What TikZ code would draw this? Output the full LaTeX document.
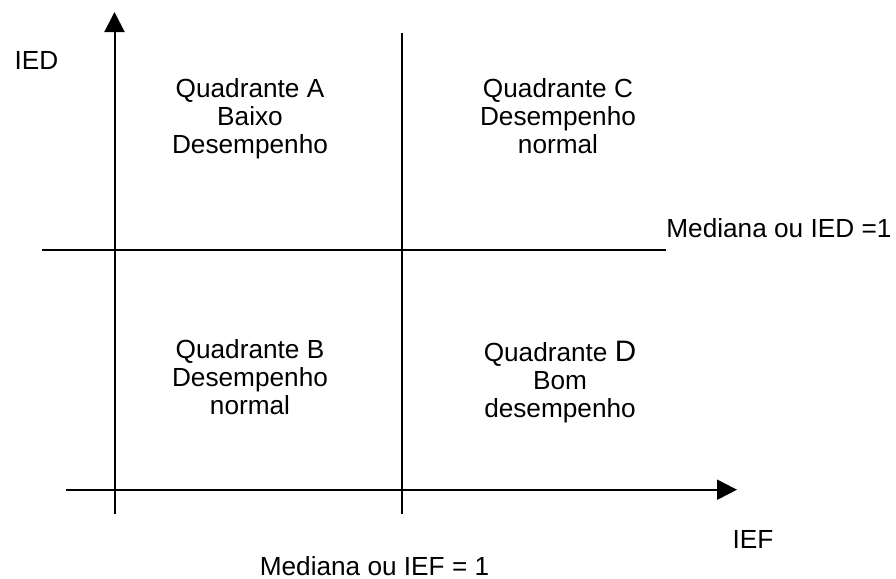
\documentclass[tikz,border=0pt]{standalone}
\usepackage{fontspec}
\setmainfont{Liberation Sans}
\usepackage{tikz}
\usetikzlibrary{arrows.meta}
\tikzset{
quad/.style={
  align=center,
  inner sep=0pt,
  anchor=base,
  font=\fontsize{13.1}{14}\selectfont
},
lbl/.style={inner sep=0pt,anchor=base,font=\fontsize{13.1}{14}\selectfont},
axis/.style={line width=1pt,-{Triangle[length=10pt,width=10pt]}},
rule/.style={line width=1pt},
}

\begin{document}
\begin{tikzpicture}[x=0.5pt,y=-0.5pt]
\useasboundingbox (0,0) rectangle (896,579);
% the axes
\coordinate (ybot) at (114.5,514);
\coordinate (ytop) at (114.5,12);
\coordinate (xleft) at (66,489.7);
\coordinate (xright) at (737,489.7);
\draw[axis] (ybot) -- (ytop);
\draw[axis] (xleft) -- (xright);
% the median lines
\coordinate (mtop) at (402,33);
\coordinate (mbot) at (402,514);
\coordinate (mleft) at (42,250);
\coordinate (mright) at (666,250);
\draw[rule] (mtop) -- (mbot);
\draw[rule] (mleft) -- (mright);
% the quadrants (base = last line)
\node[quad] (qa) at (250,153) {Quadrante A\\Baixo\\Desempenho};
\node[quad] (qc) at (558,153) {Quadrante C\\Desempenho\\normal};
\node[quad] (qb) at (250,414) {Quadrante B\\Desempenho\\normal};
\node[quad] (qd) at (560,417) {Quadrante {\fontsize{14.8}{14}\selectfont D}\\Bom\\desempenho};
% the labels
\node[lbl] (ied) at (36.5,69) {IED};
\node[lbl] (ief) at (753,548) {IEF};
\node[lbl] (medief) at (374.5,575) {Mediana ou IEF = 1};
\node[lbl,anchor=base west] (medied) at (666,237) {Mediana ou IED =1};
\end{tikzpicture}
\end{document}
